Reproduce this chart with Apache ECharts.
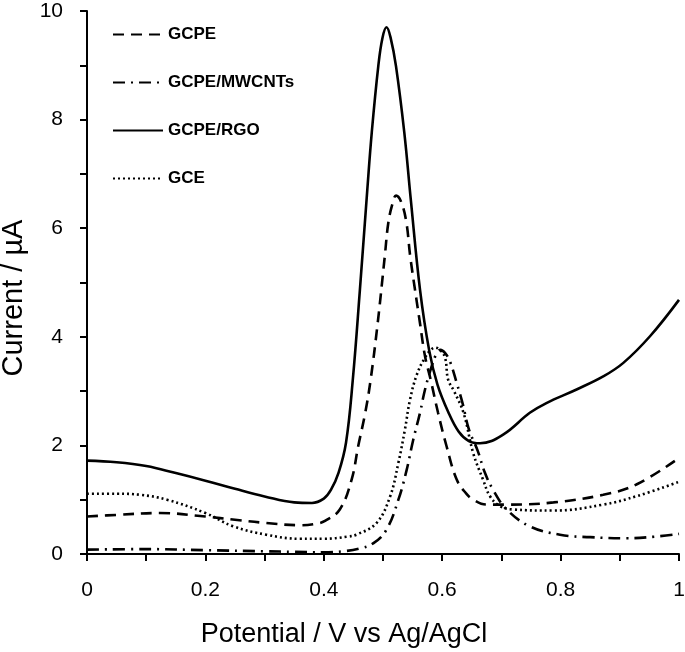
<!DOCTYPE html>
<html>
<head>
<meta charset="utf-8">
<script src="https://cdn.jsdelivr.net/npm/echarts@6/dist/echarts.min.js"></script>
<style>html,body{margin:0;padding:0;background:#fff}#c{width:685px;height:652px}</style>
</head>
<body>
<div id="c"></div>
<script>
// ---- data ----
const seriesNames = ['GCPE', 'GCPE/MWCNTs', 'GCPE/RGO', 'GCE'];

const gcpeX = [0, 0.05, 0.123, 0.2, 0.25, 0.303, 0.36, 0.388, 0.402, 0.427, 0.447, 0.458, 0.47, 0.479, 0.491, 0.503, 0.509, 0.516, 0.522, 0.53, 0.539, 0.546, 0.554, 0.5625, 0.571, 0.5805, 0.593, 0.6075, 0.6245, 0.64, 0.6526, 0.675, 0.714, 0.788, 0.872, 0.928, 1.0];
const gcpeY = [0.69, 0.72, 0.755, 0.69, 0.63, 0.57, 0.53, 0.56, 0.61, 0.82, 1.37, 1.98, 2.6, 3.2, 4.25, 5.48, 6.1, 6.45, 6.6, 6.5, 6.14, 5.48, 4.87, 4.25, 3.64, 3.21, 2.6, 1.98, 1.37, 1.12, 1.0, 0.91, 0.91, 0.95, 1.09, 1.28, 1.77];

const mwcntX = [0, 0.1, 0.2, 0.3, 0.35, 0.4, 0.433, 0.46, 0.484, 0.506, 0.526, 0.54, 0.551, 0.5625, 0.571, 0.582, 0.59, 0.597, 0.605, 0.613, 0.6245, 0.635, 0.645, 0.66, 0.672, 0.686, 0.709, 0.748, 0.799, 0.85, 0.912, 0.96, 1.0];
const mwcntY = [0.08, 0.09, 0.07, 0.05, 0.04, 0.03, 0.05, 0.1, 0.2, 0.45, 1.0, 1.55, 2.1, 2.6, 3.03, 3.45, 3.68, 3.76, 3.7, 3.55, 3.15, 2.75, 2.3, 1.9, 1.5, 1.18, 0.82, 0.51, 0.355, 0.31, 0.29, 0.32, 0.37];

const rgoX = [0, 0.05, 0.1, 0.15, 0.2, 0.25, 0.3, 0.35, 0.38, 0.4, 0.412, 0.425, 0.4375, 0.449, 0.461, 0.4735, 0.481, 0.492, 0.499, 0.506, 0.513, 0.522, 0.536, 0.547, 0.5625, 0.578, 0.592, 0.61, 0.628, 0.645, 0.664, 0.703, 0.748, 0.776, 0.827, 0.872, 0.906, 0.951, 1.0];
const rgoY = [1.72, 1.69, 1.62, 1.49, 1.35, 1.2, 1.06, 0.95, 0.94, 1.02, 1.18, 1.5, 2.05, 3.21, 4.87, 6.71, 7.76, 8.98, 9.5, 9.7, 9.5, 8.98, 7.76, 6.52, 4.87, 3.75, 3.12, 2.62, 2.25, 2.08, 2.04, 2.2, 2.6, 2.78, 3.03, 3.27, 3.52, 4.01, 4.68];

const gceX = [0, 0.05, 0.09, 0.135, 0.2, 0.247, 0.303, 0.36, 0.4, 0.44, 0.456, 0.489, 0.512, 0.526, 0.537, 0.5456, 0.557, 0.57, 0.58, 0.588, 0.597, 0.605, 0.61, 0.62, 0.636, 0.6526, 0.669, 0.681, 0.698, 0.72, 0.788, 0.872, 0.93, 1.0];
const gceY = [1.11, 1.11, 1.09, 1.0, 0.755, 0.51, 0.355, 0.28, 0.28, 0.32, 0.36, 0.57, 1.06, 1.68, 2.29, 2.84, 3.3, 3.6, 3.75, 3.8, 3.75, 3.61, 3.21, 3.0, 2.6, 1.85, 1.37, 1.06, 0.88, 0.82, 0.8, 0.91, 1.07, 1.33];

const xTickLabels = ['0', '0.2', '0.4', '0.6', '0.8', '1'];
const yTickLabels = ['0', '2', '4', '6', '8', '10'];

// ---- chart ----
function pairs(xs, ys) { return xs.map((x, i) => [x, ys[i]]); }

const dashes = [[11, 7], [12, 6, 2, 6], null, [2, 3]];
const dataSets = [pairs(gcpeX, gcpeY), pairs(mwcntX, mwcntY), pairs(rgoX, rgoY), pairs(gceX, gceY)];
const FONT = 'Liberation Sans, Arial, sans-serif';

const chart = echarts.init(document.getElementById('c'));
chart.setOption({
  animation: false,
  backgroundColor: '#fff',
  grid: { left: 87, right: 6, top: 11, bottom: 98, containLabel: false, outerBoundsMode: 'none' },
  legend: {
    data: seriesNames,
    orient: 'vertical',
    left: 112,
    top: 26,
    padding: 0,
    itemWidth: 50,
    itemHeight: 14,
    itemGap: 31,
    itemStyle: { opacity: 0 },
    textStyle: { fontFamily: FONT, fontWeight: 'bold', fontSize: 17, lineHeight: 17, color: '#000' }
  },
  xAxis: {
    type: 'value',
    min: 0, max: 1, interval: 0.1,
    name: 'Potential / V vs Ag/AgCl',
    nameLocation: 'middle',
    nameGap: 67,
    nameTextStyle: { fontFamily: FONT, fontSize: 27, color: '#000', padding: [0, 78, 0, 0] },
    axisLine: { lineStyle: { color: '#000', width: 2 } },
    axisTick: { show: true, length: 7, lineStyle: { color: '#000', width: 2 } },
    axisLabel: {
      margin: 26,
      fontFamily: FONT, fontSize: 21, color: '#000',
      formatter: function (v) {
        const k = Math.round(v * 10);
        return k % 2 === 0 ? xTickLabels[k / 2] : '';
      }
    },
    splitLine: { show: false }
  },
  yAxis: {
    type: 'value',
    min: 0, max: 10, interval: 1,
    name: 'Current / µA',
    nameLocation: 'middle',
    nameGap: 59,
    nameTextStyle: { fontFamily: FONT, fontSize: 29, color: '#000', padding: [0, 31, 0, 0] },
    axisLine: { show: true, lineStyle: { color: '#000', width: 2 } },
    axisTick: { show: true, length: 7, lineStyle: { color: '#000', width: 2 } },
    axisLabel: {
      margin: 24,
      fontFamily: FONT, fontSize: 21, color: '#000',
      formatter: function (v) {
        const k = Math.round(v);
        return k % 2 === 0 ? yTickLabels[k / 2] : '';
      }
    },
    splitLine: { show: false }
  },
  series: seriesNames.map((n, i) => ({
    name: n,
    type: 'line',
    data: dataSets[i],
    smooth: 0.4,
    symbol: 'none',
    color: '#000',
    lineStyle: { color: '#000', width: 2.6, type: dashes[i] ? dashes[i] : 'solid' }
  }))
});
</script>
</body>
</html>
